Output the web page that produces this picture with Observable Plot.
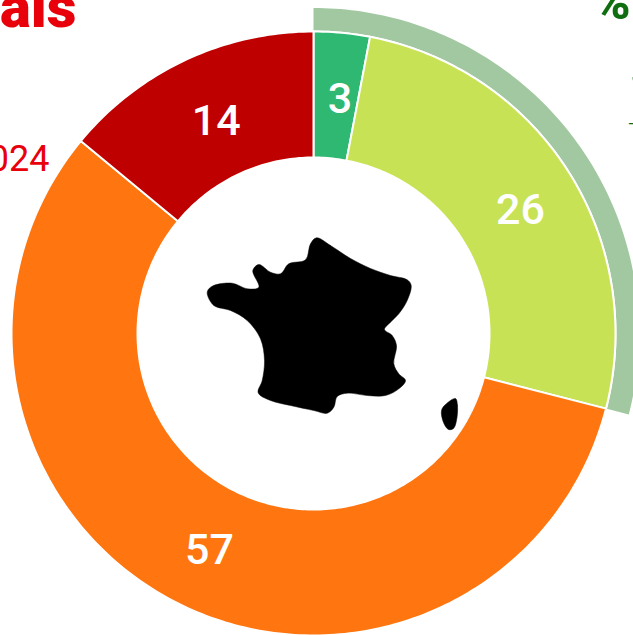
<!DOCTYPE html>
<html><head><meta charset="utf-8">
<script src="https://cdn.jsdelivr.net/npm/d3@7"></script>
<script src="https://cdn.jsdelivr.net/npm/@observablehq/plot@0.6"></script>
<style>html,body{margin:0;padding:0;background:#fff;overflow:hidden}svg{display:block}</style>
</head><body><div id="chart"></div>
<script>
const shares = [3, 26, 57, 14];
const shareColors = ["#2eb872", "#c8e255", "#ff750f", "#bf0000"];
const shareNudgeX = [4, 6, 4, 4];
const shareNudgeY = [3, 4, 5, 3];
const bracketShares = [3, 26];
const bracketColor = "#a1c8a0";
const franceX = [316,330,350,370,390,406.7,410.7,406.7,398.3,390,384,391.7,396,393.3,398.3,405,398.3,385,366.7,346.7,336.7,333.3,326.7,313.3,290,270,257.7,261.7,264,260,246.7,230,213.3,206.7,211.7,231.7,246.7,258.3,252.3,258.3,270,280,288.3,305,310];
const franceY = [237.3,245,258,268,275,279.3,285,300,313.3,321.7,329,335,345,363.3,373.3,380,388.3,395,395,392.7,396,406.7,412.7,410,405,400,392.3,380,360,338.3,320,310,305,291.7,285.7,282.7,288.3,286.7,270,264,271.7,273.3,263.3,259.3,243.3];
const corsicaX = [455,457,456,453,448,443,441,445];
const corsicaY = [398,405,420,428,429,422,410,404];
const cx = 313, cy = 333, R = 302, r = 176, labelR = 238, ringIn = 303, ringOut = 325.5;

const total = d3.sum(shares);
const toAngle = v => v / total * 2 * Math.PI;
function sector(a0, a1, r0, r1, key, color) {
  const n = Math.max(2, Math.ceil((a1 - a0) * 60));
  const pts = [];
  for (let i = 0; i <= n; i++) { const a = a0 + (a1 - a0) * i / n; pts.push({x: cx + r1 * Math.sin(a), y: cy - r1 * Math.cos(a), key, color}); }
  for (let i = n; i >= 0; i--) { const a = a0 + (a1 - a0) * i / n; pts.push({x: cx + r0 * Math.sin(a), y: cy - r0 * Math.cos(a), key, color}); }
  return pts;
}
let acc = 0; const slices = [], labels = [];
shares.forEach((v, i) => {
  const a0 = toAngle(acc), a1 = toAngle(acc + v), m = (a0 + a1) / 2;
  slices.push(...sector(a0, a1, r, R, i, shareColors[i]));
  labels.push({x: cx + labelR * Math.sin(m) + shareNudgeX[i], y: cy - labelR * Math.cos(m) + shareNudgeY[i], t: String(v)});
  acc += v;
});
const ring = sector(0, toAngle(d3.sum(bracketShares)), ringIn, ringOut, "ring", bracketColor);
const france = franceX.map((x, i) => ({x, y: franceY[i]}));
const corsica = corsicaX.map((x, i) => ({x, y: corsicaY[i]}));
const font = "Roboto, sans-serif";
const red = "#e8000b", green = "#0f6e0f";

const chart = Plot.plot({
  width: 633, height: 635, margin: 0,
  x: {domain: [0, 633], range: [0, 633], axis: null},
  y: {domain: [0, 635], range: [0, 635], axis: null},
  style: {background: "#fff", fontFamily: font},
  marks: [
    Plot.line(ring, {x: "x", y: "y", z: "key", fill: "color", stroke: "none", curve: "linear-closed"}),
    Plot.line(slices, {x: "x", y: "y", z: "key", fill: "color", stroke: "#fff", strokeWidth: 2, curve: "linear-closed"}),
    Plot.line(france, {x: "x", y: "y", fill: "#000", stroke: "#000", strokeWidth: 0.5, curve: "catmull-rom-closed"}),
    Plot.line(corsica, {x: "x", y: "y", fill: "#000", stroke: "#000", strokeWidth: 0.5, curve: "catmull-rom-closed"}),
    Plot.text(labels, {x: "x", y: "y", text: "t", fill: "#fff", fontSize: 43, fontWeight: 500, fontFamily: font}),
    Plot.text(["ais"], {x: [76], y: [8], textAnchor: "end", text: d => d, fill: red, fontSize: 58, fontWeight: 900, fontFamily: font}),
    Plot.text(["2024"], {x: [49], y: [159], textAnchor: "end", text: d => d, fill: red, fontSize: 36, fontWeight: 400, fontFamily: "'Liberation Sans Narrow', Roboto, sans-serif"}),
    Plot.text(["%"], {x: [593], y: [2], textAnchor: "start", text: d => d, fill: green, fontSize: 50, fontWeight: 800, fontFamily: font}),
    Plot.text(["S"], {x: [630], y: [71], textAnchor: "start", text: d => d, fill: green, fontSize: 50, fontWeight: 400, fontFamily: font}),
    Plot.text(["–"], {x: [627], y: [124], textAnchor: "start", text: d => d, fill: green, fontSize: 18, fontWeight: 400, fontFamily: font})
  ]
});
document.getElementById("chart").append(chart);
</script></body></html>
